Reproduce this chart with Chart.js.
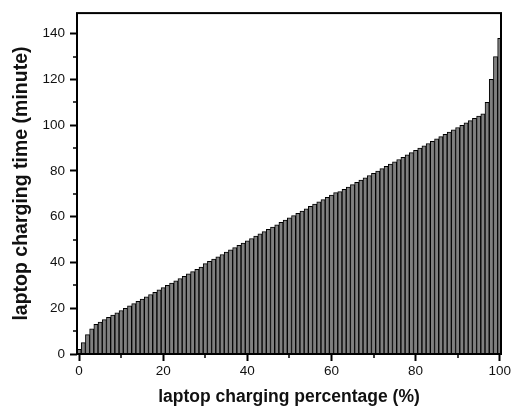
<!DOCTYPE html>
<html>
<head>
<meta charset="utf-8">
<script src="https://cdn.jsdelivr.net/npm/chart.js@4/dist/chart.umd.min.js"></script>
<style>
html,body{margin:0;padding:0;background:#fff;}
#wrap{width:515px;height:410px;position:relative;}
</style>
</head>
<body>
<div id="wrap"><canvas id="c" width="515" height="410"></canvas></div>
<script>
// charging percentage (%) categories
const percentages = [
  0,1,2,3,4,5,6,7,8,9,10,11,12,13,14,15,16,17,18,19,20,
  21,22,23,24,25,26,27,28,29,30,31,32,33,34,35,36,37,38,39,40,
  41,42,43,44,45,46,47,48,49,50,51,52,53,54,55,56,57,58,59,60,
  61,62,63,64,65,66,67,68,69,70,71,72,73,74,75,76,77,78,79,80,
  81,82,83,84,85,86,87,88,89,90,91,92,93,94,95,96,97,98,99,100
];
// charging time (minute)
const chargingTime = [
  2, 5, 8.5, 11, 13, 14, 15, 16, 17, 18, 19,
  20, 21, 22, 23, 24, 25, 26, 27, 28, 29,
  30, 31, 32, 33, 34, 35, 36, 37, 38, 39.5,
  40.5, 41.5, 42.5, 43.5, 44.5, 45.5, 46.5, 47.5, 48.5, 49.5,
  50.5, 51.5, 52.5, 53.5, 54.5, 55.5, 56.5, 57.5, 58.5, 59.5,
  60.5, 61.5, 62.5, 63.5, 64.5, 65.5, 66.5, 67.5, 68.5, 69.5,
  70.5, 71, 72, 73, 74, 75, 76, 77, 78, 79,
  80, 81, 82, 83, 84, 85, 86, 87, 88, 89,
  90, 91, 92, 93, 94, 95, 96, 97, 98, 99,
  100, 101, 102, 103, 104, 105, 110, 120, 130, 138
];
const xTitle = 'laptop charging percentage (%)';
const yTitle = 'laptop charging time (minute)';
const xMajorTicks = [0, 20, 40, 60, 80, 100];
const xMinorTicks = [10, 30, 50, 70, 90];
const yMajorTicks = [0, 20, 40, 60, 80, 100, 120, 140];
const yMinorTicks = [10, 30, 50, 70, 90, 110, 130];

const framePlugin = {
  id: 'frame',
  afterDraw(chart) {
    const {ctx, chartArea: a, scales} = chart;
    ctx.save();
    ctx.strokeStyle = '#000';
    ctx.lineWidth = 2;
    ctx.strokeRect(a.left, a.top, a.right - a.left, a.bottom - a.top);
    // minor ticks
    ctx.lineWidth = 1.5;
    ctx.beginPath();
    xMinorTicks.forEach(v => {
      const px = Math.round(scales.x.getPixelForValue(v));
      ctx.moveTo(px, a.bottom);
      ctx.lineTo(px, a.bottom + 4);
    });
    yMinorTicks.forEach(v => {
      const py = Math.round(scales.y.getPixelForValue(v));
      ctx.moveTo(a.left, py);
      ctx.lineTo(a.left - 4, py);
    });
    ctx.stroke();
    ctx.restore();
  }
};

new Chart(document.getElementById('c'), {
  type: 'bar',
  data: {
    labels: percentages,
    datasets: [{
      data: chargingTime,
      backgroundColor: '#808080',
      borderColor: '#000',
      borderWidth: 1,
      barPercentage: 1,
      categoryPercentage: 1
    }]
  },
  options: {
    responsive: false,
    animation: false,
    events: [],
    layout: { padding: { left: 0, top: 11, right: 14, bottom: 0 } },
    plugins: { legend: { display: false }, tooltip: { enabled: false } },
    scales: {
      x: {
        type: 'linear',
        offset: false,
        min: -0.5,
        max: 100.3,
        afterFit(s) { s.height = 56; },
        afterBuildTicks(s) { s.ticks = xMajorTicks.map(v => ({ value: v })); },
        border: { display: false },
        grid: { display: true, offset: false, drawOnChartArea: false, drawTicks: true, tickLength: 7, tickWidth: 2, tickColor: '#000' },
        ticks: { padding: 2, color: '#111', font: { family: 'Liberation Sans', size: 13.5 }, maxRotation: 0, autoSkip: false },
        title: { display: true, text: xTitle, color: '#111', font: { family: 'Liberation Sans', size: 17.5, weight: 'bold', lineHeight: 1.2 }, padding: { top: 0, bottom: 2 } }
      },
      y: {
        type: 'linear',
        min: 0,
        max: 149,
        afterFit(s) { s.width = 77; },
        afterBuildTicks(s) { s.ticks = yMajorTicks.map(v => ({ value: v })); },
        border: { display: false },
        grid: { display: true, drawOnChartArea: false, drawTicks: true, tickLength: 7, tickWidth: 2, tickColor: '#000' },
        ticks: { padding: 5, color: '#111', font: { family: 'Liberation Sans', size: 13.5 }, autoSkip: false },
        title: { display: true, text: yTitle, color: '#111', font: { family: 'Liberation Sans', size: 19.5, weight: 'bold', lineHeight: 1.2 }, padding: { top: 10.3, bottom: 0 } }
      }
    }
  },
  plugins: [framePlugin]
});
</script>
</body>
</html>
